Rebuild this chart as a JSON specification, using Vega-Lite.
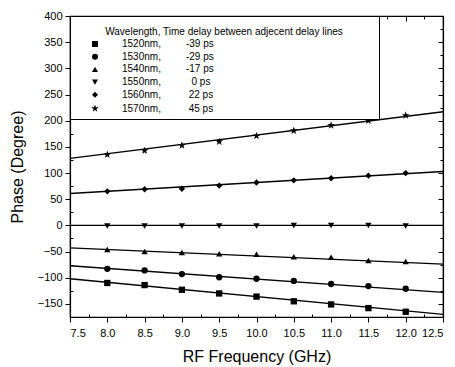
{
  "$schema": "https://vega.github.io/schema/vega-lite/v6.json",
  "width": 373,
  "height": 301,
  "autosize": {"type": "none"},
  "padding": {"left": 70, "top": 16, "right": 12, "bottom": 50},
  "background": "white",
  "config": {
    "view": {"stroke": "black", "strokeWidth": 1.2},
    "font": "Liberation Sans",
    "axis": {
      "domainColor": "black",
      "domainWidth": 1.2,
      "tickColor": "black",
      "tickWidth": 1,
      "labelColor": "black",
      "labelFont": "Liberation Sans",
      "labelFontSize": 11,
      "titleFont": "Liberation Sans",
      "titleFontSize": 16,
      "titleFontWeight": "normal",
      "titleColor": "black",
      "grid": false,
      "labelOverlap": false
    }
  },
  "datasets": {
    "fit": [
      {"series": "1520nm", "freq": 7.5, "phase": -102},
      {"series": "1520nm", "freq": 12.5, "phase": -170},
      {"series": "1530nm", "freq": 7.5, "phase": -77},
      {"series": "1530nm", "freq": 12.5, "phase": -128},
      {"series": "1540nm", "freq": 7.5, "phase": -43},
      {"series": "1540nm", "freq": 12.5, "phase": -74},
      {"series": "1550nm", "freq": 7.5, "phase": 0},
      {"series": "1550nm", "freq": 12.5, "phase": 0},
      {"series": "1560nm", "freq": 7.5, "phase": 61},
      {"series": "1560nm", "freq": 12.5, "phase": 103},
      {"series": "1570nm", "freq": 7.5, "phase": 128},
      {"series": "1570nm", "freq": 12.5, "phase": 217}
    ],
    "pts": [
      {"series": "1520nm", "freq": 8.0, "phase": -110},
      {"series": "1520nm", "freq": 8.5, "phase": -114},
      {"series": "1520nm", "freq": 9.0, "phase": -123},
      {"series": "1520nm", "freq": 9.5, "phase": -130},
      {"series": "1520nm", "freq": 10.0, "phase": -136},
      {"series": "1520nm", "freq": 10.5, "phase": -145},
      {"series": "1520nm", "freq": 11.0, "phase": -151},
      {"series": "1520nm", "freq": 11.5, "phase": -158},
      {"series": "1520nm", "freq": 12.0, "phase": -165},
      {"series": "1530nm", "freq": 8.0, "phase": -83},
      {"series": "1530nm", "freq": 8.5, "phase": -86},
      {"series": "1530nm", "freq": 9.0, "phase": -93},
      {"series": "1530nm", "freq": 9.5, "phase": -99},
      {"series": "1530nm", "freq": 10.0, "phase": -102},
      {"series": "1530nm", "freq": 10.5, "phase": -106},
      {"series": "1530nm", "freq": 11.0, "phase": -112},
      {"series": "1530nm", "freq": 11.5, "phase": -116},
      {"series": "1530nm", "freq": 12.0, "phase": -121},
      {"series": "1540nm", "freq": 8.0, "phase": -46},
      {"series": "1540nm", "freq": 8.5, "phase": -50},
      {"series": "1540nm", "freq": 9.0, "phase": -52},
      {"series": "1540nm", "freq": 9.5, "phase": -54},
      {"series": "1540nm", "freq": 10.0, "phase": -55},
      {"series": "1540nm", "freq": 10.5, "phase": -60},
      {"series": "1540nm", "freq": 11.0, "phase": -61},
      {"series": "1540nm", "freq": 11.5, "phase": -67},
      {"series": "1540nm", "freq": 12.0, "phase": -69},
      {"series": "1550nm", "freq": 8.0, "phase": -1},
      {"series": "1550nm", "freq": 8.5, "phase": -1},
      {"series": "1550nm", "freq": 9.0, "phase": -1},
      {"series": "1550nm", "freq": 9.5, "phase": -1},
      {"series": "1550nm", "freq": 10.0, "phase": -1},
      {"series": "1550nm", "freq": 10.5, "phase": 0},
      {"series": "1550nm", "freq": 11.0, "phase": 0},
      {"series": "1550nm", "freq": 11.5, "phase": 0},
      {"series": "1550nm", "freq": 12.0, "phase": -1},
      {"series": "1560nm", "freq": 8.0, "phase": 65},
      {"series": "1560nm", "freq": 8.5, "phase": 69},
      {"series": "1560nm", "freq": 9.0, "phase": 70},
      {"series": "1560nm", "freq": 9.5, "phase": 76},
      {"series": "1560nm", "freq": 10.0, "phase": 82},
      {"series": "1560nm", "freq": 10.5, "phase": 86},
      {"series": "1560nm", "freq": 11.0, "phase": 90},
      {"series": "1560nm", "freq": 11.5, "phase": 95},
      {"series": "1560nm", "freq": 12.0, "phase": 100},
      {"series": "1570nm", "freq": 8.0, "phase": 135},
      {"series": "1570nm", "freq": 8.5, "phase": 143},
      {"series": "1570nm", "freq": 9.0, "phase": 153},
      {"series": "1570nm", "freq": 9.5, "phase": 160},
      {"series": "1570nm", "freq": 10.0, "phase": 171},
      {"series": "1570nm", "freq": 10.5, "phase": 181},
      {"series": "1570nm", "freq": 11.0, "phase": 191},
      {"series": "1570nm", "freq": 11.5, "phase": 200},
      {"series": "1570nm", "freq": 12.0, "phase": 210}
    ]
  },
  "layer": [
    {
      "data": {"name": "fit"},
      "mark": {"type": "line", "color": "black", "strokeWidth": 1.4},
      "encoding": {
        "x": {
          "field": "freq", "type": "quantitative",
          "scale": {"domain": [7.5, 12.5], "nice": false, "zero": false},
          "axis": {
            "orient": "bottom",
            "title": "RF Frequency (GHz)",
            "values": [7.5, 7.75, 8, 8.25, 8.5, 8.75, 9, 9.25, 9.5, 9.75, 10, 10.25, 10.5, 10.75, 11, 11.25, 11.5, 11.75, 12, 12.25, 12.5],
            "labelExpr": "datum.value % 0.5 == 0 ? format(datum.value, '.1f') : ''",
            "tickSize": {"condition": {"test": "datum.value % 0.5 == 0", "value": 5}, "value": -3},
            "labelPadding": 5,
            "titlePadding": 10
          }
        },
        "y": {
          "field": "phase", "type": "quantitative",
          "scale": {"domain": [-175, 400], "nice": false, "zero": false},
          "axis": {
            "orient": "left",
            "title": "Phase (Degree)",
            "values": [-175, -150, -125, -100, -75, -50, -25, 0, 25, 50, 75, 100, 125, 150, 175, 200, 225, 250, 275, 300, 325, 350, 375, 400],
            "labelExpr": "datum.value % 50 == 0 ? format(datum.value, 'd') : ''",
            "tickSize": {"condition": {"test": "datum.value % 50 == 0", "value": 5}, "value": -3},
            "labelPadding": 3,
            "titlePadding": 12
          }
        },
        "detail": {"field": "series"}
      }
    },
    {
      "data": {"name": "pts"},
      "mark": {"type": "point", "filled": true, "color": "black", "opacity": 1, "size": 40},
      "encoding": {
        "x": {
          "field": "freq", "type": "quantitative",
          "scale": {"domain": [7.5, 12.5], "nice": false, "zero": false},
          "axis": {
            "orient": "top",
            "title": null,
            "labels": false,
            "values": [7.5, 7.75, 8, 8.25, 8.5, 8.75, 9, 9.25, 9.5, 9.75, 10, 10.25, 10.5, 10.75, 11, 11.25, 11.5, 11.75, 12, 12.25, 12.5],
            "tickSize": {"condition": {"test": "datum.value % 0.5 == 0", "value": -5}, "value": -3}
          }
        },
        "y": {
          "field": "phase", "type": "quantitative",
          "scale": {"domain": [-175, 400], "nice": false, "zero": false},
          "axis": {
            "orient": "right",
            "title": null,
            "labels": false,
            "values": [-175, -150, -125, -100, -75, -50, -25, 0, 25, 50, 75, 100, 125, 150, 175, 200, 225, 250, 275, 300, 325, 350, 375, 400],
            "tickSize": {"condition": {"test": "datum.value % 50 == 0", "value": -5}, "value": -3}
          }
        },
        "shape": {
          "field": "series", "type": "nominal",
          "scale": {
            "domain": ["1520nm", "1530nm", "1540nm", "1550nm", "1560nm", "1570nm"],
            "range": ["square", "circle", "triangle-up", "triangle-down", "diamond", "M0,-1.3L0.306,-0.421L1.236,-0.402L0.494,0.161L0.764,1.052L0,0.52L-0.764,1.052L-0.494,0.161L-1.236,-0.402L-0.306,-0.421Z"]
          },
          "legend": {
            "orient": "none",
            "legendX": 0,
            "legendY": 0,
            "title": ["", "Wavelength, Time delay between adjecent delay lines"],
            "titleFont": "Liberation Sans",
            "titleFontSize": 10,
            "titleFontWeight": "normal",
            "titleColor": "black",
            "titleAnchor": "middle",
            "titleLimit": 500,
            "titlePadding": 2,
            "titleLineHeight": 7,
            "labelFont": "Liberation Sans",
            "labelFontSize": 10,
            "labelColor": "black",
            "labelLimit": 400,
            "symbolSize": 36,
            "symbolFillColor": "black",
            "symbolStrokeColor": "black",
            "symbolOffset": 16,
            "labelOffset": 22,
            "rowPadding": 0.7,
            "padding": 4,
            "strokeColor": "black",
            "fillColor": "white",
            "labelExpr": "pad(datum.label == '1520nm' ? '1520nm,\u00a0\u00a0\u00a0\u00a0\u00a0\u00a0\u00a0\u00a0\u00a0-39 ps' : datum.label == '1530nm' ? '1530nm,\u00a0\u00a0\u00a0\u00a0\u00a0\u00a0\u00a0\u00a0\u00a0-29 ps' : datum.label == '1540nm' ? '1540nm,\u00a0\u00a0\u00a0\u00a0\u00a0\u00a0\u00a0\u00a0\u00a0-17 ps' : datum.label == '1550nm' ? '1550nm,\u00a0\u00a0\u00a0\u00a0\u00a0\u00a0\u00a0\u00a0\u00a0\u00a0\u00a00 ps' : datum.label == '1560nm' ? '1560nm,\u00a0\u00a0\u00a0\u00a0\u00a0\u00a0\u00a0\u00a0\u00a0\u00a022 ps' : '1570nm,\u00a0\u00a0\u00a0\u00a0\u00a0\u00a0\u00a0\u00a0\u00a0\u00a045 ps', 45, '\u2800', 'right')"
          }
        }
      }
    }
  ],
  "resolve": {"axis": {"x": "independent", "y": "independent"}}
}
